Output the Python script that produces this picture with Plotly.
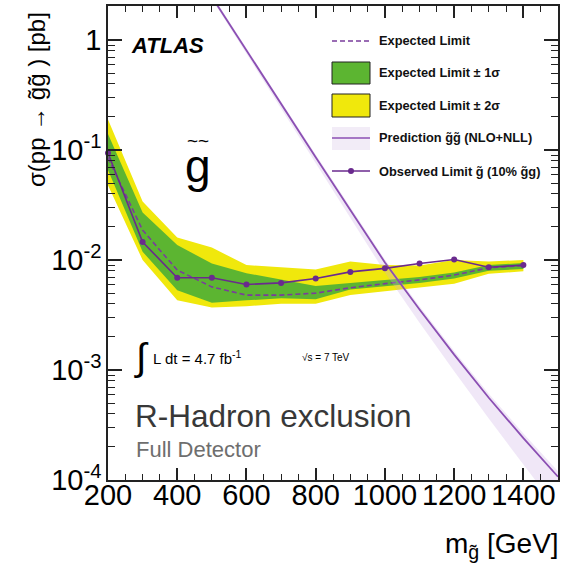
import plotly.graph_objects as go

# ---------------- data ----------------
mass = [200, 300, 400, 500, 600, 700, 800, 900, 1000, 1100, 1200, 1300, 1400]
observed = [0.094, 0.0146, 0.0069, 0.0069, 0.0060, 0.0062, 0.0068, 0.0078, 0.0084, 0.0093, 0.0101, 0.0086, 0.0090]
expected = [0.085, 0.0187, 0.0081, 0.0057, 0.0048, 0.0048, 0.0050, 0.0056, 0.0061, 0.0066, 0.0073, 0.0085, 0.0089]
sig1_hi = [0.14, 0.027, 0.0137, 0.0093, 0.0076, 0.0066, 0.0058, 0.0062, 0.0066, 0.0070, 0.0077, 0.0090, 0.0094]
sig1_lo = [0.066, 0.0119, 0.0053, 0.0041, 0.0043, 0.0045, 0.0044, 0.0054, 0.0058, 0.0062, 0.0068, 0.0080, 0.0083]
sig2_hi = [0.19, 0.034, 0.016, 0.013, 0.0090, 0.0086, 0.0082, 0.0097, 0.0090, 0.0089, 0.0100, 0.0097, 0.0100]
sig2_lo = [0.048, 0.010, 0.0043, 0.0037, 0.0038, 0.0040, 0.0040, 0.0048, 0.0052, 0.0056, 0.0061, 0.0075, 0.0079]

pred_mass = [500, 600, 700, 800, 900, 1000, 1100, 1200, 1300, 1400, 1500]
pred = [2.47, 0.80, 0.263, 0.086, 0.0285, 0.0095, 0.00355, 0.00138, 0.00056, 0.00024, 0.000107]
pred_hi = [2.59, 0.84, 0.277, 0.091, 0.0302, 0.0101, 0.00380, 0.00149, 0.00061, 0.000265, 0.000120]
pred_lo = [2.36, 0.747, 0.240, 0.0757, 0.0243, 0.00772, 0.00269, 0.000977, 0.000362, 0.000138, 0.0000536]

x_ticks = [200, 400, 600, 800, 1000, 1200, 1400]
y_ticks = [1e-4, 1e-3, 1e-2, 1e-1, 1]
y_ticktext = ["10<sup>-4</sup>", "10<sup>-3</sup>", "10<sup>-2</sup>", "10<sup>-1</sup>", "1"]
y_minor = [k * 10.0 ** e for e in range(-4, 1) for k in range(2, 10)]

legend_labels = ["Expected Limit", "Expected Limit \u00b1 1\u03c3", "Expected Limit \u00b1 2\u03c3",
                 "Prediction g\u0303g\u0303 (NLO+NLL)", "Observed Limit g\u0303 (10% g\u0303g)"]

# ---------------- styles ----------------
FONT = "Liberation Sans, Arial, Helvetica, sans-serif"
GREEN = "#5cb531"
YELLOW = "#f0e80c"
PRED_BAND = "rgba(200,170,225,0.28)"
PRED_LINE = "#8b4fb3"
OBS = "#6a2a8e"
EXP = "#7a3d9c"
DASH = "5px,3px"

W, H = 573, 566
L, R, T, B = 108, 15, 6, 86
PW, PH = W - L - R, H - T - B


def px(x):
    return (x - L) / PW


def py(y):
    return 1 - (y - T) / PH


fig = go.Figure()

fig.add_trace(go.Scatter(x=mass + mass[::-1], y=sig2_hi + sig2_lo[::-1], fill="toself",
                         fillcolor=YELLOW, line=dict(width=0), mode="lines",
                         hoverinfo="skip", showlegend=False))
fig.add_trace(go.Scatter(x=mass + mass[::-1], y=sig1_hi + sig1_lo[::-1], fill="toself",
                         fillcolor=GREEN, line=dict(width=0), mode="lines",
                         hoverinfo="skip", showlegend=False))
fig.add_trace(go.Scatter(x=mass, y=expected, mode="lines",
                         line=dict(color=EXP, width=1.6, dash=DASH), showlegend=False))
fig.add_trace(go.Scatter(x=pred_mass + pred_mass[::-1], y=pred_hi + pred_lo[::-1], fill="toself",
                         fillcolor=PRED_BAND, line=dict(width=0), mode="lines",
                         hoverinfo="skip", showlegend=False))
fig.add_trace(go.Scatter(x=pred_mass, y=pred, mode="lines",
                         line=dict(color=PRED_LINE, width=1.8), showlegend=False))
fig.add_trace(go.Scatter(x=mass, y=observed, mode="lines+markers",
                         line=dict(color=OBS, width=1.6), marker=dict(color=OBS, size=6),
                         cliponaxis=False, showlegend=False))

axis_common = dict(showline=True, linecolor="#222", linewidth=1.5, mirror="ticks",
                   ticks="inside", tickcolor="#222", showgrid=False, zeroline=False,
                   automargin=False,
                   tickfont=dict(family=FONT, size=29, color="black"))

fig.update_xaxes(range=[200, 1500], tickvals=x_ticks, ticklen=12, tickwidth=1.5,
                 ticklabelstandoff=-12,
                 minor=dict(ticks="inside", dtick=50, ticklen=6, tickwidth=1.2, tickcolor="#222"),
                 **axis_common)
fig.update_yaxes(type="log", range=[-4, 0.31], tickvals=y_ticks, ticktext=y_ticktext,
                 ticklen=14, tickwidth=1.5, ticklabelstandoff=-1,
                 minor=dict(ticks="inside", tickvals=y_minor, ticklen=7, tickwidth=1.2, tickcolor="#222"),
                 **axis_common)

ann = []


def text(x, y, s, size, color="black", xanchor="left", bold=False, italic=False, angle=0):
    if bold:
        s = "<b>" + s + "</b>"
    if italic:
        s = "<i>" + s + "</i>"
    ann.append(dict(x=px(x), y=py(y), xref="paper", yref="paper", text=s, showarrow=False,
                    xanchor=xanchor, yanchor="middle", textangle=angle,
                    font=dict(family=FONT, size=size, color=color)))


text(129, 45, "ATLAS", 22, bold=True, italic=True)
text(198, 166, "g", 46, xanchor="center")
text(198, 141, "~~", 19, xanchor="center")
text(141, 357, "\u222b", 38, xanchor="center")
text(151, 357, "L dt = 4.7 fb<sup>-1</sup>", 15)
text(300, 357, "\u221as = 7 TeV", 10)
text(133, 416, "R-Hadron exclusion", 31.5, color="#383838")
text(134, 449, "Full Detector", 22, color="#6e6e6e")
text(36, 100, "\u03c3(pp \u2192 g\u0303g\u0303 ) [pb]", 24, xanchor="center", angle=-90)
text(561, 545, "m<sub>g\u0303</sub> [GeV]", 28, xanchor="right")

# legend (drawn by hand to match the reference)
leg_y = [41, 73, 105, 138, 171]
for yy, lab in zip(leg_y, legend_labels):
    text(377, yy, lab, 12.8, color="#111", bold=True)

shapes = []
x0, x1 = px(332), px(370)
shapes.append(dict(type="line", xref="paper", yref="paper", x0=x0, x1=x1, y0=py(41), y1=py(41),
                   line=dict(color=EXP, width=1.5, dash=DASH)))
shapes.append(dict(type="rect", xref="paper", yref="paper", x0=x0, x1=x1, y0=py(84), y1=py(62),
                   fillcolor=GREEN, line=dict(color="#222", width=1)))
shapes.append(dict(type="rect", xref="paper", yref="paper", x0=x0, x1=x1, y0=py(117), y1=py(94),
                   fillcolor=YELLOW, line=dict(color="#222", width=1)))
shapes.append(dict(type="rect", xref="paper", yref="paper", x0=x0, x1=x1, y0=py(150), y1=py(127),
                   fillcolor="#f2ecf7", line=dict(width=0)))
shapes.append(dict(type="line", xref="paper", yref="paper", x0=x0, x1=x1, y0=py(138), y1=py(138),
                   line=dict(color=PRED_LINE, width=1.5)))
shapes.append(dict(type="line", xref="paper", yref="paper", x0=x0, x1=x1, y0=py(171), y1=py(171),
                   line=dict(color=OBS, width=1.5)))
shapes.append(dict(type="circle", xref="paper", yref="paper", x0=px(348), x1=px(354),
                   y0=py(174), y1=py(168), fillcolor=OBS, line=dict(color=OBS, width=0)))

fig.update_layout(width=W, height=H, margin=dict(l=L, r=R, t=T, b=B, autoexpand=False),
                  paper_bgcolor="white", plot_bgcolor="white",
                  annotations=ann, shapes=shapes, showlegend=False,
                  font=dict(family=FONT))

fig.write_html("out.html", config={"displayModeBar": False},
               post_script="document.body.style.margin='0';document.body.style.overflow='hidden';")
